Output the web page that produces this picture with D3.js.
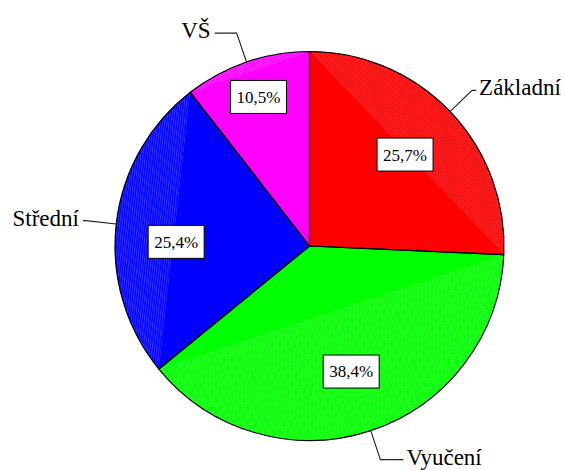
<!DOCTYPE html>
<meta charset="utf-8">
<script src="https://d3js.org/d3.v7.min.js"></script>
<style>
  body { margin: 0; background: #fff; }
</style>
<svg width="565" height="470"></svg>
<script>
// data
var categories = ["Základní", "Vyučení", "Střední", "VŠ"];
var shares = [25.7, 38.4, 25.4, 10.5];
var percentLabels = ["25,7%", "38,4%", "25,4%", "10,5%"];
var colors = ["#ff0000", "#00ff00", "#0000ff", "#ff00ff"];

// layout tweaks (where the old chart put its boxes and leader stubs)
var boxRadius = [0.68, 0.68, 0.69, 0.81];
var boxNudgeY = [0, 0, 11, 0];
var stubLen = [4, 23, 3, 22];

var serif = "'Liberation Serif', 'Times New Roman', Times, 'DejaVu Serif', serif";
var cx = 309.5, cy = 246, R = 194.5;

var svg = d3.select("svg");
var defs = svg.append("defs");
var g = svg.append("g").attr("transform", "translate(" + cx + "," + cy + ")");

var pie = d3.pie().sort(null).value(function(d) { return d; });
var arcs = pie(shares);

var arc = d3.arc().innerRadius(0).outerRadius(R);

function pt(a, r) { return [r * Math.sin(a), -r * Math.cos(a)]; }

// slices
g.selectAll("path.slice")
  .data(arcs)
  .enter().append("path")
  .attr("class", "slice")
  .attr("d", arc)
  .attr("fill", function(d, i) { return colors[i]; });

// lighter stripes in the segment between chord and arc (old renderer artefact)
arcs.forEach(function(d, i) {
  var p0 = pt(d.startAngle, R), p1 = pt(d.endAngle, R);
  var ang = Math.atan2(p1[1] - p0[1], p1[0] - p0[0]) * 180 / Math.PI;
  var pat = defs.append("pattern")
      .attr("id", "hatch" + i)
      .attr("patternUnits", "userSpaceOnUse")
      .attr("width", 6).attr("height", 2.2)
      .attr("patternTransform", "rotate(" + ang + ")");
  pat.append("rect").attr("width", 6).attr("height", 2.2).attr("fill", colors[i]);
  pat.append("line")
      .attr("x1", 0).attr("x2", 6).attr("y1", 0.5).attr("y2", 0.5)
      .attr("stroke", "#fff").attr("stroke-opacity", 0.22).attr("stroke-width", 0.9);

  var p = d3.path();
  p.moveTo(p0[0], p0[1]);
  p.arc(0, 0, R, d.startAngle - Math.PI / 2, d.endAngle - Math.PI / 2);
  p.closePath();
  g.append("path").attr("d", p.toString()).attr("fill", "url(#hatch" + i + ")");
});

// outlines
g.selectAll("path.edge")
  .data(arcs)
  .enter().append("path")
  .attr("class", "edge")
  .attr("d", arc)
  .attr("fill", "none")
  .attr("stroke", "#000")
  .attr("stroke-width", 1.2)
  .attr("stroke-linejoin", "round");

// percent boxes
var boxes = g.selectAll("g.box")
  .data(arcs)
  .enter().append("g")
  .attr("class", "box")
  .attr("transform", function(d, i) {
    var c = d3.arc().innerRadius(boxRadius[i] * R).outerRadius(boxRadius[i] * R).centroid(d);
    return "translate(" + c[0] + "," + (c[1] + boxNudgeY[i]) + ")";
  });

boxes.append("rect")
  .attr("x", -28).attr("y", -16.5)
  .attr("width", 56).attr("height", 33)
  .attr("fill", "#fff")
  .attr("stroke", "#000")
  .attr("stroke-width", 1);

boxes.append("text")
  .attr("text-anchor", "middle")
  .attr("dy", "0.35em")
  .attr("font-family", serif)
  .attr("font-size", 17)
  .text(function(d, i) { return percentLabels[i]; });

// leader lines and category names
var outer = R * 1.157;
arcs.forEach(function(d, i) {
  var mid = (d.startAngle + d.endAngle) / 2;
  var a = pt(mid, R), b = pt(mid, outer);
  var right = Math.sin(mid) >= 0;
  var cEnd = [b[0] + (right ? stubLen[i] : -stubLen[i]), b[1]];
  g.append("path")
    .attr("d", d3.line()([a, b, cEnd]))
    .attr("fill", "none")
    .attr("stroke", "#222")
    .attr("stroke-width", 1.1);
  g.append("text")
    .attr("x", cEnd[0] + (right ? 3 : -4))
    .attr("y", cEnd[1])
    .attr("dy", "0.22em")
    .attr("text-anchor", right ? "start" : "end")
    .attr("font-family", serif)
    .attr("font-size", 23)
    .text(categories[i]);
});
</script>
